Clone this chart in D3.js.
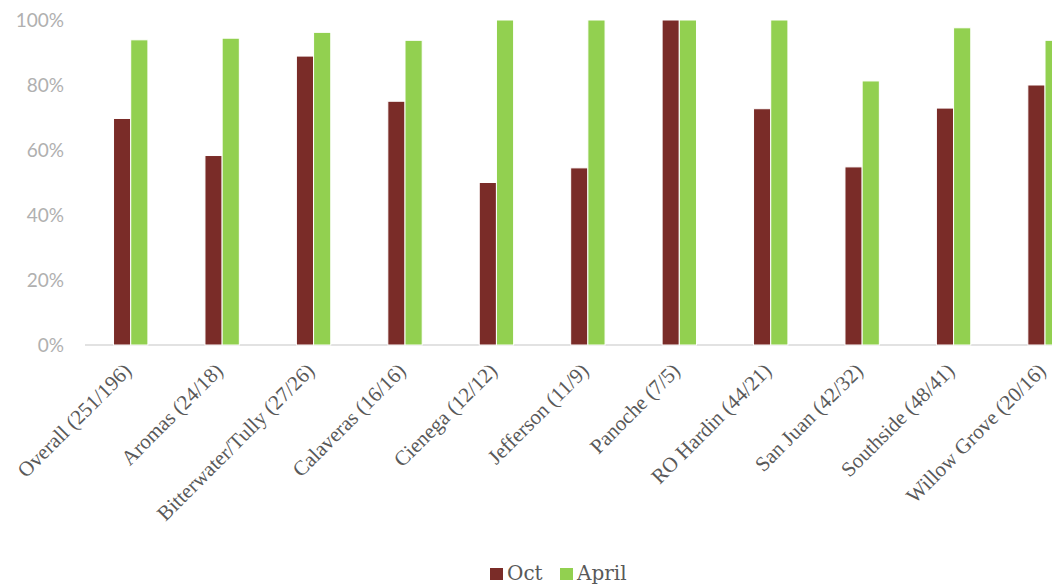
<!DOCTYPE html>
<html>
<head>
<meta charset="utf-8">
<script src="https://cdn.jsdelivr.net/npm/d3@7/dist/d3.min.js"></script>
<style>
  html, body { margin: 0; padding: 0; background: #fff; }
  svg { display: block; }
</style>
</head>
<body>
<svg id="chart" width="1052" height="586"></svg>
<script>
// Schools with survey counts (Oct / April)
const categories = [
  "Overall (251/196)", "Aromas (24/18)", "Bitterwater/Tully (27/26)",
  "Calaveras (16/16)", "Cienega (12/12)", "Jefferson (11/9)",
  "Panoche (7/5)", "RO Hardin (44/21)", "San Juan (42/32)",
  "Southside (48/41)", "Willow Grove (20/16)"
];
const seriesNames = ["Oct", "April"];
const octValues   = [0.697, 0.583, 0.889, 0.75, 0.50, 0.545, 1.0, 0.727, 0.548, 0.729, 0.80];
const aprilValues = [0.939, 0.944, 0.962, 0.9375, 1.0, 1.0, 1.0, 1.0, 0.8125, 0.976, 0.9375];
const yTicks = [0, 0.2, 0.4, 0.6, 0.8, 1.0];
const colors = { Oct: "#7a2c28", April: "#92d050" };

const svg = d3.select("#chart");

const left = 85, step = 91.43;
const x0 = d3.scaleBand()
  .domain(categories)
  .range([left, left + step * categories.length])
  .paddingInner(0).paddingOuter(0);

const x1 = d3.scaleBand()
  .domain(seriesNames)
  .range([0, x0.bandwidth()])
  .paddingInner(0).paddingOuter(1.66);

const y = d3.scaleLinear().domain([0, 1]).range([345, 20]);

// Y tick labels
const yAxis = d3.axisLeft(y).tickValues(yTicks).tickFormat(d3.format(".0%")).tickSize(0).tickPadding(0);
const gy = svg.append("g").attr("transform", "translate(64,0)").call(yAxis);
gy.select(".domain").remove();
gy.selectAll("text")
  .attr("fill", "#b0b0b0")
  .style("font-family", "Lato, 'Open Sans', sans-serif")
  .style("font-size", "19px");

// Baseline
svg.append("line")
  .attr("x1", left).attr("x2", 1052)
  .attr("y1", y(0)).attr("y2", y(0))
  .attr("stroke", "#d9d9d9").attr("stroke-width", 1.5);

// Bars
const rows = categories.map((c, i) => ({ cat: c, Oct: octValues[i], April: aprilValues[i] }));
const groups = svg.append("g").selectAll("g").data(rows).join("g")
  .attr("transform", d => `translate(${x0(d.cat)},0)`);
groups.selectAll("rect")
  .data(d => seriesNames.map(s => ({ s, v: d[s] })))
  .join("rect")
  .attr("x", d => x1(d.s))
  .attr("width", x1.bandwidth())
  .attr("y", d => y(d.v))
  .attr("height", d => y(0) - y(d.v))
  .attr("fill", d => colors[d.s])
  .attr("stroke", "#ffffff").attr("stroke-width", 1);

// Category labels, rotated
svg.append("g").selectAll("text").data(categories).join("text")
  .attr("transform", d => `translate(${x0(d) + x0.bandwidth() / 2 + 2},${372}) rotate(-45)`)
  .attr("text-anchor", "end")
  .attr("fill", "#595959")
  .style("font-family", "'Liberation Serif', 'DejaVu Serif', serif")
  .style("font-size", "21px")
  .text(d => d);

// Legend
const legend = svg.append("g").attr("transform", "translate(490,568)");
const items = [{ s: "Oct", x: 0, label: "Oct" }, { s: "April", x: 70, label: "April" }];
const li = legend.selectAll("g").data(items).join("g").attr("transform", d => `translate(${d.x},0)`);
li.append("rect").attr("width", 13).attr("height", 12).attr("fill", d => colors[d.s]);
li.append("text")
  .attr("x", 17).attr("y", 12)
  .attr("fill", "#595959")
  .style("font-family", "'DejaVu Serif', serif")
  .style("font-size", "20px")
  .text(d => d.label);
</script>
</body>
</html>
